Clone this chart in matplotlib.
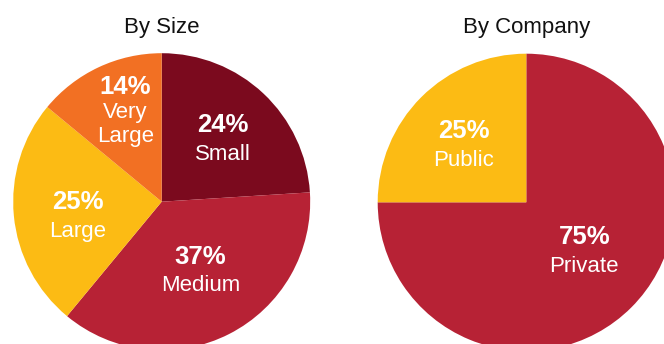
import matplotlib
matplotlib.use("Agg")
import matplotlib.pyplot as plt

# share of companies by size, clockwise from 12 o'clock
size_names = [["Small"], ["Medium"], ["Large"], ["Very", "Large"]]
size_values = [24, 37, 25, 14]
size_colors = ["#7B0A1E", "#B72235", "#FCBB14", "#F27023"]

# share of companies by ownership
company_names = [["Private"], ["Public"]]
company_values = [75, 25]
company_colors = ["#B72235", "#FCBB14"]

W, H = 664, 344
FONT = "Liberation Sans"

# label anchors: offset of the percent baseline from the pie centre (px, y up)
# and the step down to each following line
size_label_pos = [(61.6, 70.0, 28.3), (38.8, -62.3, 26.7),
                  (-83.9, -7.3, 27.7), (-36.2, 107.4, 23.8)]
company_label_pos = [(58.0, -42.0, 27.4), (-62.6, 64.6, 28.0)]


def draw_pie(ax, values, colors, names, label_pos, center, radius, title):
    cx, cy = center
    ax.pie(values, colors=colors, startangle=90, counterclock=False,
           center=center, radius=radius,
           wedgeprops=dict(linewidth=0, antialiased=True))
    for v, lines, (dx, dy, step) in zip(values, names, label_pos):
        x, y = cx + dx, cy + dy
        ax.text(x, y, f"{v}%", color="white", fontsize=18.5,
                fontweight="bold", family=FONT, ha="center", va="baseline")
        for i, line in enumerate(lines):
            ax.text(x, y - step * (i + 1), line, color="white", fontsize=16,
                    family=FONT, ha="center", va="baseline")
    ax.text(cx, H - 32.7, title, color="#111111", fontsize=16,
            family=FONT, ha="center", va="baseline")


fig = plt.figure(figsize=(W / 100, H / 100), dpi=100)
ax = fig.add_axes([0, 0, 1, 1])

draw_pie(ax, size_values, size_colors, size_names, size_label_pos,
         (161.7, H - 201.7), 148.5, "By Size")
draw_pie(ax, company_values, company_colors, company_names, company_label_pos,
         (526.3, H - 202.3), 148.6, "By Company")

ax.set_xlim(0, W)
ax.set_ylim(0, H)
ax.set_aspect("equal")
ax.axis("off")

fig.savefig("out.png", dpi=100)
